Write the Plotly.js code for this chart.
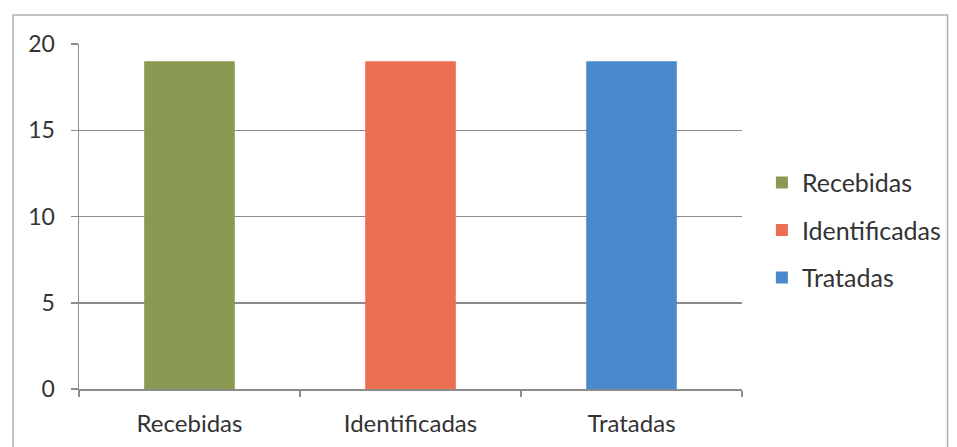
<!DOCTYPE html>
<html><head><meta charset="utf-8">
<script src="https://cdn.plot.ly/plotly-3.0.1.min.js"></script>
<style>html,body{margin:0;padding:0;background:#fff;}#chart{width:957px;height:447px;}</style>
</head><body><div id="chart"></div>
<script>
const categories = ["Recebidas", "Identificadas", "Tratadas"];
const values = [19, 19, 19];
const colors = ["#8a9a52", "#ec6e53", "#4a89cc"];
const yTicks = [0, 5, 10, 15, 20];

const FONT = "Lato, 'Open Sans', sans-serif";
const TXT = "#333333";

const traces = categories.map((c, i) => ({
  type: "bar",
  x: [c],
  y: [values[i]],
  name: c,
  legendgroup: "g" + i,
  width: 0.41,
  marker: {color: colors[i], line: {width: 0}},
  hoverinfo: "x+y"
}));

const layout = {
  width: 957, height: 447,
  margin: {l: 79, r: 215, t: 44, b: 58, autoexpand: false},
  paper_bgcolor: "#fff", plot_bgcolor: "#fff",
  barmode: "overlay",
  font: {family: FONT, color: TXT, size: 24},
  xaxis: {
    type: "category", categoryorder: "array", categoryarray: categories,
    range: [-0.5, 2.5],
    showline: true, linecolor: "#8c8c8c", linewidth: 1.5,
    ticks: "outside", tickson: "boundaries", ticklen: 6, tickcolor: "#8c8c8c", tickwidth: 1.5,
    ticklabelstandoff: 13,
    showgrid: false, zeroline: false,
    tickfont: {family: FONT, size: 24, color: TXT}
  },
  yaxis: {
    range: [0, 20], tickvals: yTicks, ticktext: yTicks.map(String),
    showline: true, linecolor: "#8c8c8c", linewidth: 1.5,
    ticks: "outside", ticklen: 7, tickcolor: "#8c8c8c", tickwidth: 1.5,
    ticklabelstandoff: 11,
    showgrid: true, gridcolor: "#8c8c8c", gridwidth: 1.5,
    zeroline: false,
    tickfont: {family: FONT, size: 23, color: TXT}
  },
  legend: {
    x: 1.03, xanchor: "left", y: 0.46, yanchor: "middle",
    traceorder: "grouped", tracegroupgap: 12,
    font: {family: FONT, size: 25, color: TXT},
    bgcolor: "rgba(0,0,0,0)", itemclick: false
  },
  shapes: [{
    type: "rect", xref: "paper", yref: "paper",
    x0: -0.0995, x1: 1.31, y0: -0.25, y1: 1.084,
    line: {color: "#b0b0b0", width: 1.5}, layer: "below"
  }],
  showlegend: true
};

Plotly.newPlot("chart", traces, layout, {displayModeBar: false, staticPlot: true});
</script>
</body></html>
